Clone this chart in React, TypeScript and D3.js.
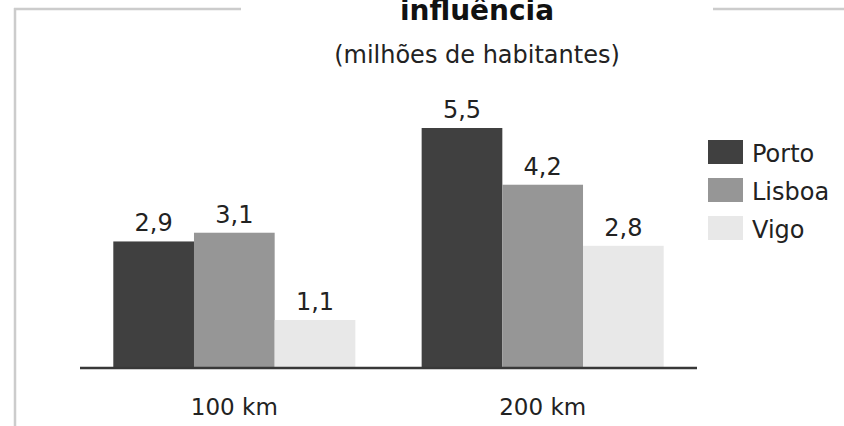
import React from "react";
import * as d3 from "d3";

const categories = ["100 km", "200 km"];
const seriesNames = ["Porto", "Lisboa", "Vigo"];
const porto = [2.9, 5.5];
const lisboa = [3.1, 4.2];
const vigo = [1.1, 2.8];
const colors = ["#404040", "#969696", "#e8e8e8"];
const titleText = "influência";
const subtitleText = "(milhões de habitantes)";

const W = 844;
const H = 426;
const FONT = "'DejaVu Sans', Verdana, sans-serif";

export default function App() {
  const values = [porto, lisboa, vigo];
  const baseY = 368;
  const x0 = d3.scaleBand<string>().domain(categories).range([80, 697]).paddingInner(0.215).paddingOuter(0.108);
  const x1 = d3.scaleBand<string>().domain(seriesNames).range([0, x0.bandwidth()]).padding(0);
  const y = d3.scaleLinear().domain([0, 5.5]).range([baseY, 128]);
  const fmt = (v: number) => v.toFixed(1).replace(".", ",");

  return (
    <svg width={W} height={H} style={{ position: "absolute", left: 0, top: 0, background: "#fff" }}>
      <rect x={0} y={0} width={W} height={H} fill="#fff" />
      {/* frame */}
      <line x1={15} y1={8} x2={15} y2={H} stroke="#cccccc" strokeWidth={2.5} />
      <line x1={14} y1={9} x2={241} y2={9} stroke="#cccccc" strokeWidth={2.5} />
      <line x1={713} y1={9} x2={W} y2={9} stroke="#cccccc" strokeWidth={2.5} />
      {/* title */}
      <text x={477} y={20} textAnchor="middle" fontFamily={FONT} fontWeight="bold" fontSize={28} fill="#111">
        {titleText}
      </text>
      <text x={477} y={63} textAnchor="middle" fontFamily={FONT} fontSize={24} fill="#222">
        {subtitleText}
      </text>
      {/* bars */}
      {categories.map((c, ci) => (
        <g key={c} transform={`translate(${x0(c)},0)`}>
          {seriesNames.map((s, si) => {
            const v = values[si][ci];
            const bx = x1(s)!;
            return (
              <g key={s}>
                <rect x={bx} y={y(v)} width={x1.bandwidth()} height={baseY - y(v)} fill={colors[si]} />
                <text x={bx + x1.bandwidth() / 2} y={y(v) - 10} textAnchor="middle" fontFamily={FONT} fontSize={24} fill="#222">
                  {fmt(v)}
                </text>
              </g>
            );
          })}
          <text x={x0.bandwidth() / 2} y={415} textAnchor="middle" fontFamily={FONT} fontSize={23} fill="#222">
            {c}
          </text>
        </g>
      ))}
      {/* axis */}
      <line x1={80} y1={baseY} x2={697} y2={baseY} stroke="#383838" strokeWidth={2.5} />
      {/* legend */}
      {seriesNames.map((s, i) => (
        <g key={s} transform={`translate(708,${140 + i * 38})`}>
          <rect x={0} y={0} width={35} height={24} fill={colors[i]} />
          <text x={44} y={22} fontFamily={FONT} fontSize={24} fill="#222">
            {s}
          </text>
        </g>
      ))}
    </svg>
  );
}
